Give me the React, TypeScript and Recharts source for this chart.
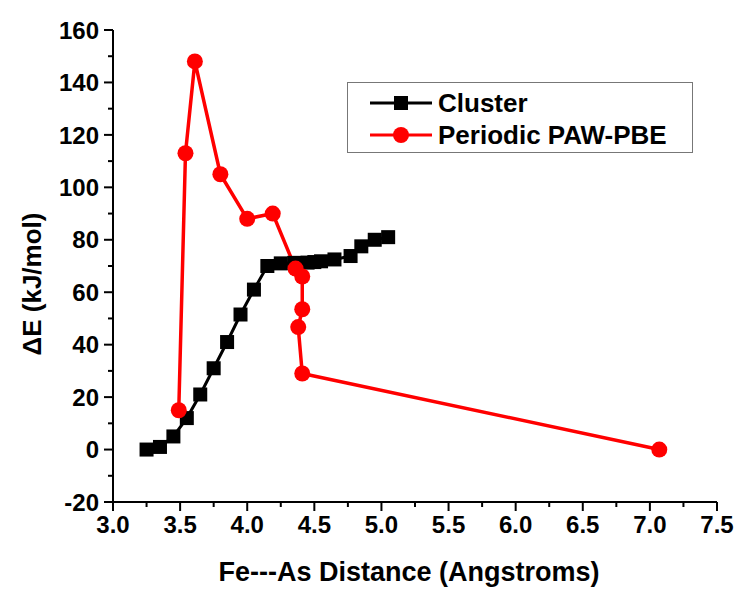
import { LineChart, Line, XAxis, YAxis, Legend } from "recharts";

const clusterX = [3.25, 3.35, 3.45, 3.55, 3.65, 3.75, 3.85, 3.95, 4.05, 4.15, 4.25, 4.35, 4.45, 4.5, 4.55, 4.65, 4.77, 4.85, 4.95, 5.05];
const clusterY = [0, 1, 5, 12, 21, 31, 41, 51.5, 61, 70, 71, 71.2, 71.3, 71.5, 71.8, 72.5, 73.8, 77.5, 80, 81];

const pawX = [3.49, 3.54, 3.61, 3.8, 4.0, 4.19, 4.36, 4.41, 4.41, 4.38, 4.41, 7.07];
const pawY = [15, 113, 148, 105, 88, 90, 69, 66, 53.5, 46.7, 29, 0];

const xTicks = [3, 3.25, 3.5, 3.75, 4, 4.25, 4.5, 4.75, 5, 5.25, 5.5, 5.75, 6, 6.25, 6.5, 6.75, 7, 7.25, 7.5];
const yTicks = [-20, -10, 0, 10, 20, 30, 40, 50, 60, 70, 80, 90, 100, 110, 120, 130, 140, 150, 160];

const clusterData = clusterX.map((x, i) => ({ x, y: clusterY[i] }));
const pawData = pawX.map((x, i) => ({ x, y: pawY[i] }));

const FONT = "'Liberation Sans', Arial, sans-serif";

const XTick = (props: any) => {
  const { x, y, payload } = props;
  const v = payload.value as number;
  const major = Math.abs(v * 2 - Math.round(v * 2)) < 1e-6;
  return (
    <g>
      <line x1={x} x2={x} y1={y} y2={y + (major ? 9 : 5)} stroke="#000" strokeWidth={2} />
      {major && (
        <text x={x} y={y + 31} textAnchor="middle" fontFamily={FONT} fontWeight="bold" fontSize={24} fill="#000">
          {v.toFixed(1)}
        </text>
      )}
    </g>
  );
};

const YTick = (props: any) => {
  const { x, y, payload } = props;
  const v = payload.value as number;
  const major = v % 20 === 0;
  return (
    <g>
      <line x1={x} x2={x - (major ? 9 : 5)} y1={y} y2={y} stroke="#000" strokeWidth={2} />
      {major && (
        <text x={x - 14} y={y} dy="0.36em" textAnchor="end" fontFamily={FONT} fontWeight="bold" fontSize={24} fill="#000">
          {v}
        </text>
      )}
    </g>
  );
};

const Square = (p: any) => (
  <rect key={p.index} x={p.cx - 7} y={p.cy - 7} width={14} height={14} fill="#000" />
);

const LegendBox = () => (
  <div
    style={{
      width: 346,
      height: 71,
      boxSizing: "border-box",
      border: "1px solid #777",
      background: "#fff",
      fontFamily: FONT,
      fontWeight: "bold",
      fontSize: 26,
      color: "#000",
      paddingTop: 4,
    }}
  >
    <div style={{ display: "flex", alignItems: "center", height: 32 }}>
      <svg width={90} height={20}>
        <line x1={22} x2={84} y1={10} y2={10} stroke="#000" strokeWidth={3} />
        <rect x={46} y={3} width={14} height={14} fill="#000" />
      </svg>
      <span>Cluster</span>
    </div>
    <div style={{ display: "flex", alignItems: "center", height: 32 }}>
      <svg width={90} height={20}>
        <line x1={22} x2={84} y1={10} y2={10} stroke="#ff0000" strokeWidth={3} />
        <circle cx={53} cy={10} r={8} fill="#ff0000" />
      </svg>
      <span>Periodic PAW-PBE</span>
    </div>
  </div>
);

export default function App() {
  return (
    <div style={{ position: "absolute", left: 0, top: 0, background: "#fff" }}>
      <LineChart width={734} height={591} margin={{ top: 30, right: 17, left: 53, bottom: 49 }}>
        <XAxis
          type="number"
          dataKey="x"
          domain={[3, 7.5]}
          ticks={xTicks}
          interval={0}
          tickSize={0}
          tickMargin={0}
          tickLine={false}
          height={40}
          axisLine={{ stroke: "#000", strokeWidth: 2 }}
          tick={<XTick />}
          allowDuplicatedCategory={false}
          label={{
            content: () => (
              <text x={409} y={581} textAnchor="middle" fontFamily={FONT} fontWeight="bold" fontSize={27} fill="#000">
                Fe---As Distance (Angstroms)
              </text>
            ),
          }}
        />
        <YAxis
          type="number"
          dataKey="y"
          domain={[-20, 160]}
          ticks={yTicks}
          interval={0}
          tickSize={0}
          tickMargin={0}
          tickLine={false}
          width={60}
          axisLine={{ stroke: "#000", strokeWidth: 2 }}
          tick={<YTick />}
          label={{
            content: () => (
              <text
                x={32}
                y={284}
                transform="rotate(-90 32 284)"
                dy="0.36em"
                textAnchor="middle"
                fontFamily={FONT}
                fontWeight="bold"
                fontSize={26}
                fill="#000"
              >
                ΔE (kJ/mol)
              </text>
            ),
          }}
        />
        <Legend
          layout="vertical"
          align="center"
          verticalAlign="middle"
          content={<LegendBox />}
          wrapperStyle={{ left: 347, top: 82, width: 346, height: 71 }}
        />
        <Line
          data={clusterData}
          dataKey="y"
          name="Cluster"
          type="linear"
          stroke="#000"
          strokeWidth={3}
          dot={Square}
          activeDot={false}
          isAnimationActive={false}
        />
        <Line
          data={pawData}
          dataKey="y"
          name="Periodic PAW-PBE"
          type="linear"
          stroke="#ff0000"
          strokeWidth={3.5}
          dot={{ r: 8, fill: "#ff0000", stroke: "none" }}
          activeDot={false}
          isAnimationActive={false}
        />
      </LineChart>
    </div>
  );
}
